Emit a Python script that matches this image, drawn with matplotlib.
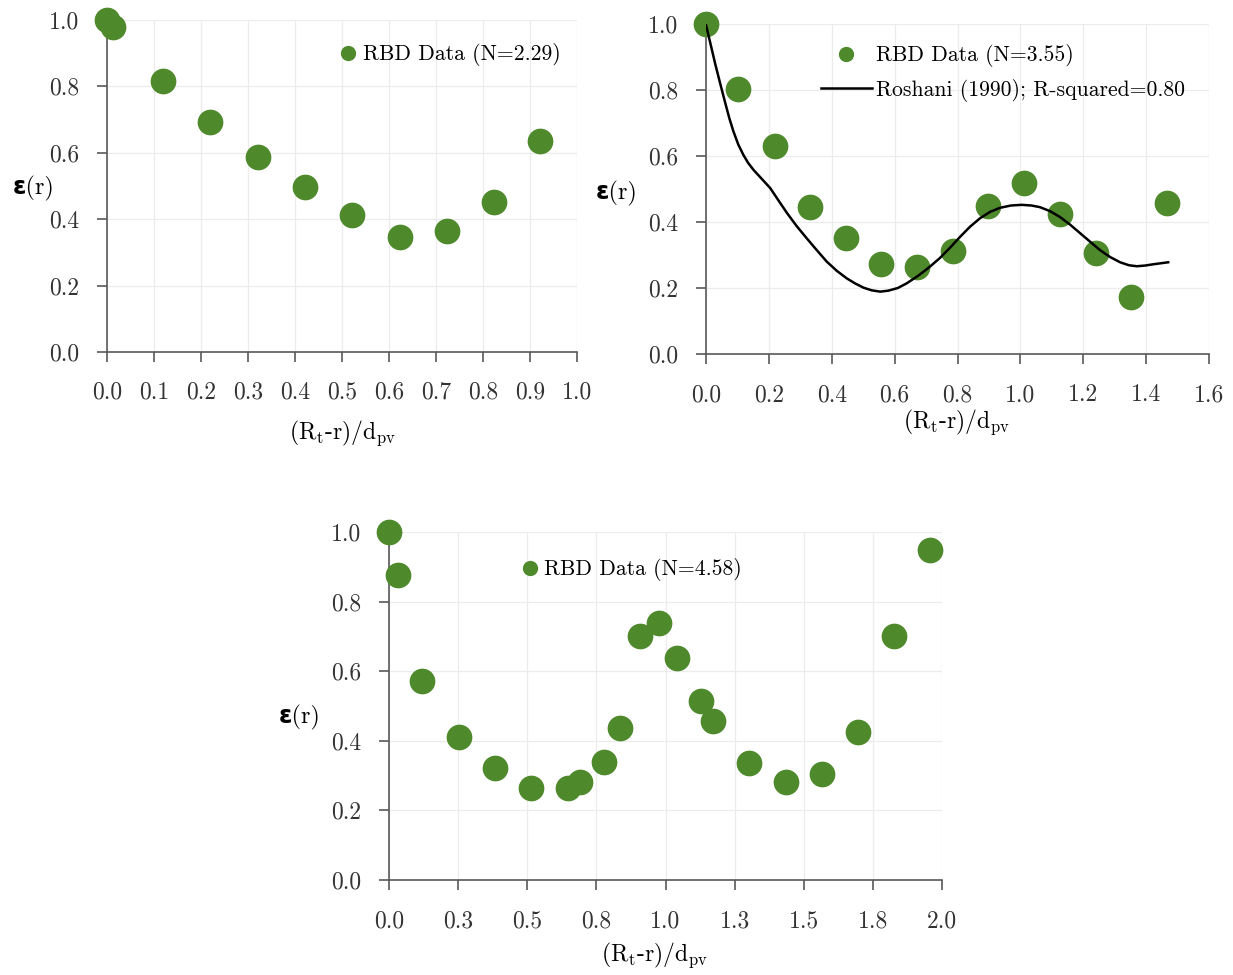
import numpy as np
import matplotlib
matplotlib.use("Agg")
import matplotlib.pyplot as plt

plt.rcParams['font.family'] = ['cmr10', 'DejaVu Sans']
plt.rcParams['mathtext.fontset'] = 'cm'
plt.rcParams['axes.formatter.use_mathtext'] = True

GREEN = '#4E8A2B'
AXIS = '#595959'
GRID = '#ececec'

# panel 1 (N=2.29)
x_229 = [0.0, 0.013, 0.119, 0.220, 0.321, 0.421, 0.521, 0.623, 0.723, 0.823, 0.921]
y_229 = [1.0, 0.978, 0.817, 0.692, 0.588, 0.497, 0.412, 0.347, 0.365, 0.452, 0.636]

# panel 2 (N=3.55)
x_355 = [0.0, 0.103, 0.218, 0.331, 0.445, 0.558, 0.672, 0.786, 0.898, 1.012, 1.125,
         1.240, 1.353, 1.467]
y_355 = [1.0, 0.803, 0.631, 0.445, 0.352, 0.274, 0.263, 0.312, 0.448, 0.519, 0.424,
         0.307, 0.173, 0.457]

# Roshani (1990) curve
x_roshani = [0.0, 0.013, 0.029, 0.045, 0.060, 0.074, 0.087, 0.1025, 0.119, 0.134,
             0.151, 0.177, 0.204, 0.230, 0.257, 0.288, 0.320, 0.352, 0.384, 0.416,
             0.448, 0.474, 0.501, 0.527, 0.554, 0.580, 0.610, 0.638, 0.676, 0.710,
             0.744, 0.776, 0.808, 0.840, 0.871, 0.904, 0.935, 0.970, 1.004, 1.035,
             1.062, 1.094, 1.126, 1.158, 1.190, 1.222, 1.253, 1.285, 1.317, 1.345,
             1.370, 1.396, 1.423, 1.470]
y_roshani = [0.997, 0.945, 0.880, 0.820, 0.765, 0.715, 0.675, 0.635, 0.603, 0.579,
             0.558, 0.531, 0.503, 0.466, 0.428, 0.388, 0.351, 0.315, 0.280, 0.252,
             0.229, 0.214, 0.201, 0.193, 0.189, 0.192, 0.200, 0.214, 0.238, 0.263,
             0.291, 0.322, 0.355, 0.386, 0.411, 0.431, 0.443, 0.450, 0.452, 0.450,
             0.445, 0.433, 0.415, 0.392, 0.366, 0.340, 0.315, 0.294, 0.278, 0.269,
             0.266, 0.268, 0.272, 0.278]

# panel 3 (N=4.58)
x_458 = [0.0, 0.032, 0.121, 0.254, 0.383, 0.514, 0.647, 0.689, 0.776, 0.837, 0.909,
         0.978, 1.041, 1.127, 1.172, 1.302, 1.434, 1.565, 1.697, 1.825, 1.958]
y_458 = [1.0, 0.877, 0.571, 0.410, 0.321, 0.265, 0.265, 0.281, 0.339, 0.437, 0.701,
         0.738, 0.639, 0.513, 0.458, 0.335, 0.281, 0.305, 0.425, 0.702, 0.947]

y_ticks = [0.0, 0.2, 0.4, 0.6, 0.8, 1.0]
x_ticks_1 = [i / 10 for i in range(11)]
x_ticks_2 = [0.0, 0.2, 0.4, 0.6, 0.8, 1.0, 1.2, 1.4, 1.6]
x_ticks_3 = [0.0, 0.25, 0.5, 0.75, 1.0, 1.25, 1.5, 1.75, 2.0]
x_labels_3 = ['0.0', '0.3', '0.5', '0.8', '1.0', '1.3', '1.5', '1.8', '2.0']

XLABEL = '(R$_\\mathrm{t}$-r)/d$_\\mathrm{pv}$'
YLABEL = 'ε(r)'
LEG_SIZE = 15.6


def style_axes(ax, xmax, xticks, xlabels, xlab_pos, ylab_pos):
    ax.set_xlim(0, xmax)
    ax.set_ylim(0, 1.0)
    ax.set_xticks(xticks)
    ax.set_xticklabels(xlabels)
    ax.set_yticks(y_ticks)
    ax.set_yticklabels([f'{v:.1f}' for v in y_ticks])
    ax.grid(True, color=GRID, linewidth=0.9)
    ax.set_axisbelow(True)
    for s in ['top', 'right']:
        ax.spines[s].set_visible(False)
    for s in ['left', 'bottom']:
        ax.spines[s].set_color(AXIS)
        ax.spines[s].set_linewidth(1.2)
    ax.tick_params(direction='out', length=7, width=1.2, color=AXIS,
                   labelsize=17, labelcolor='#333333')
    ax.tick_params(axis='x', pad=14.5)
    ax.tick_params(axis='y', pad=13)
    ax.set_xlabel(XLABEL, fontsize=17)
    ax.xaxis.set_label_coords(*xlab_pos)
    ax.xaxis.label.set_va('center')
    ax.set_ylabel(YLABEL, fontsize=17.5, rotation=0, fontweight='bold',
                  ha='center', va='center')
    ax.yaxis.set_label_coords(*ylab_pos)


fig = plt.figure(figsize=(12.33, 9.75), dpi=100)

ax1 = fig.add_axes([0.0868, 0.639, 0.3812, 0.3405])
ax1.plot(x_229, y_229, 'o', ms=17.5, color=GREEN, clip_on=False, zorder=3,
         label='RBD Data (N=2.29)')
style_axes(ax1, 1.0, x_ticks_1, [f'{v:.1f}' for v in x_ticks_1],
           (0.502, -0.244), (-0.157, 0.494))
ax1.legend(loc='upper left', bbox_to_anchor=(0.4906, 0.93), frameon=False,
           fontsize=LEG_SIZE, markerscale=0.57, handlelength=1.0, handletextpad=0.15,
           borderpad=0, borderaxespad=0)

ax2 = fig.add_axes([0.5726, 0.6369, 0.408, 0.3385])
ax2.plot(x_355, y_355, 'o', ms=17.5, color=GREEN, clip_on=False, zorder=3,
         label='RBD Data (N=3.55)')
ax2.plot(x_roshani, y_roshani, '-', color='black', lw=1.8, zorder=4,
         solid_joinstyle='round', label='Roshani (1990); R-squared=0.80')
style_axes(ax2, 1.6, x_ticks_2, [f'{v:.1f}' for v in x_ticks_2],
           (0.499, -0.206), (-0.177, 0.488))
ax2.legend(loc='upper left', bbox_to_anchor=(0.2286, 0.939), frameon=False,
           fontsize=LEG_SIZE, markerscale=0.57, handlelength=2.35, handletextpad=0.2,
           labelspacing=0.55, borderpad=0, borderaxespad=0)

ax3 = fig.add_axes([0.3155, 0.0974, 0.4485, 0.357])
ax3.plot(x_458, y_458, 'o', ms=17.5, color=GREEN, clip_on=False, zorder=3,
         label='RBD Data (N=4.58)')
style_axes(ax3, 2.0, x_ticks_3, x_labels_3,
           (0.481, -0.216), (-0.161, 0.466))
ax3.legend(loc='upper left', bbox_to_anchor=(0.236, 0.924), frameon=False,
           fontsize=LEG_SIZE, markerscale=0.57, handlelength=1.0, handletextpad=0.15,
           borderpad=0, borderaxespad=0)

fig.savefig('out.png', dpi=100)
